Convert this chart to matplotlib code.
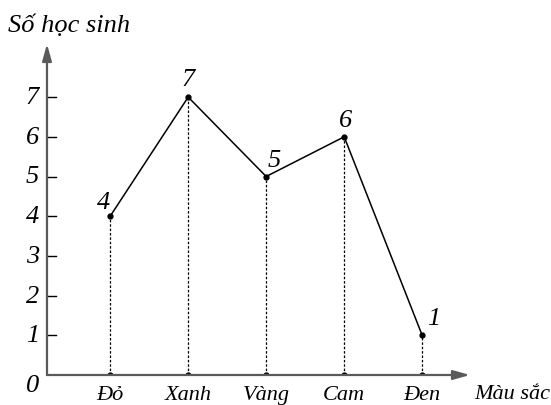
import matplotlib
matplotlib.use("Agg")
import matplotlib.pyplot as plt

colors = ["Đỏ", "Xanh", "Vàng", "Cam", "Đen"]
students = [4, 7, 5, 6, 1]
yticks = [1, 2, 3, 4, 5, 6, 7]

W, H = 551, 406
fig = plt.figure(figsize=(W / 100, H / 100), dpi=100)
# axes frame: origin at (47, 376) px, x spacing 78 px, y spacing 39.7 px
x0, y0, x1, y1 = 47, 376, 470, 45
ax = fig.add_axes([x0 / W, (H - y0) / H, (x1 - x0) / W, (y0 - y1) / H])
xmax = (x1 - x0) / 78.0
ymax = (y0 - y1) / 39.7
ax.set_xlim(0, xmax)
ax.set_ylim(0, ymax)
ax.axis("off")

serif = {"family": "Liberation Serif", "style": "italic"}
axis_col = "#5a5a5a"

# axes with arrowheads
arrow = dict(arrowstyle="-|>,head_length=1.0,head_width=0.28",
             color=axis_col, lw=1.6, shrinkA=0, shrinkB=0)
ax.annotate("", xy=(xmax, 0), xytext=(0, 0), arrowprops=arrow,
            annotation_clip=False)
ax.annotate("", xy=(0, ymax), xytext=(0, 0), arrowprops=arrow,
            annotation_clip=False)

# y ticks
for v in yticks:
    ax.plot([0, 0.12], [v, v], color="black", lw=1)
    ax.text(-0.1, v, str(v), ha="right", va="center", fontsize=19, **serif)
ax.text(-0.1, -0.25, "0", ha="right", va="center", fontsize=19, **serif)

xs = [i + 0.81 for i in range(len(colors))]

# dotted drop lines and base marks
for x, v, name in zip(xs, students, colors):
    ax.plot([x, x], [0, v], color="black", lw=0.9, ls=(0, (2, 1.5)))
    ax.plot([x - 0.19, x + 0.19], [0, 0], color="black", lw=1.4,
            solid_capstyle="butt")
    ax.plot(x, 0, "o", color="black", ms=3.5)
    ax.text(x, -0.5, name, ha="center", va="center", fontsize=16, **serif)

ax.plot(xs, students, color="black", lw=1.1, marker="o", ms=3.5)

offsets = [(-0.09, 0.36), (0, 0.45), (0.1, 0.42), (0.02, 0.42), (0.15, 0.43)]
for x, v, (dx, dy) in zip(xs, students, offsets):
    ax.text(x + dx, v + dy, str(v), ha="center", va="center", fontsize=19, **serif)

fig.text(8 / W, 1 - 26 / H, "Số học sinh", ha="left", va="center", fontsize=19, **serif)
fig.text(550 / W, 1 - 395 / H, "Màu sắc", ha="right", va="center", fontsize=16, **serif)

fig.savefig("out.png", dpi=100)
